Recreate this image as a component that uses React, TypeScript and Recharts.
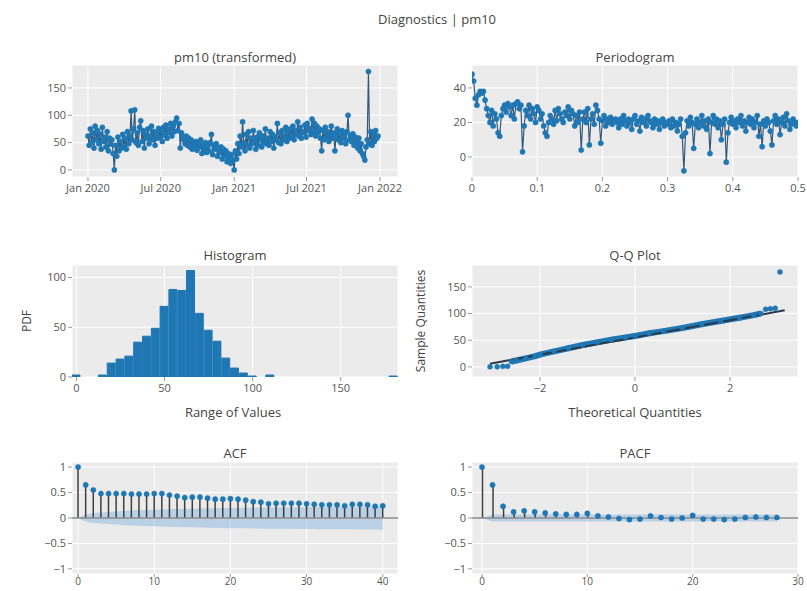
import React from "react";
import {
  ComposedChart,
  Line,
  Bar,
  Area,
  XAxis,
  YAxis,
  CartesianGrid,
  ReferenceLine,
} from "recharts";

const BLUE = "#1f77b4";
const STEM = "#3f3f3f";
const SERIES_LINE = "#35597a";
const BG = "#ebebeb";
const TEXT = "#444";
const TICK = "#555";
const FONT = '"Open Sans", "DejaVu Sans", sans-serif';

// pm10 readings, one every 3 days from 2020-01-01
const PM10_START = Date.UTC(2020, 0, 1);
const PM10_STEP_DAYS = 3;
const pm10Values = [
  62, 45, 75, 50, 68, 40, 80, 55, 72, 48,
  65, 38, 78, 52, 60, 42, 70, 35, 58, 47,
  55, 30, 0, 45, 25, 60, 35, 52, 40, 65,
  42, 58, 38, 70, 48, 62, 108, 55, 75, 110,
  50, 68, 45, 78, 90, 52, 72, 40, 65, 58,
  75, 48, 62, 80, 55, 70, 45, 68, 58, 76,
  60, 72, 52, 78, 64, 82, 58, 75, 68, 85,
  62, 80, 70, 88, 95, 72, 85, 40, 68, 60,
  55, 48, 62, 45, 58, 42, 55, 38, 50, 44,
  52, 36, 48, 42, 55, 30, 46, 38, 50, 32,
  44, 35, 50, 65, 28, 45, 38, 48, 25, 40,
  32, 42, 20, 38, 25, 35, 15, 30, 22, 12,
  28, 18, 0, 35, 20, 48, 30, 62, 42, 88,
  50, 35, 65, 45, 70, 40, 58, 48, 72, 52,
  38, 60, 45, 68, 55, 42, 62, 50, 75, 48,
  58, 45, 70, 52, 65, 40, 60, 55, 85, 50,
  68, 48, 72, 55, 62, 78, 52, 70, 58, 75,
  60, 80, 55, 72, 65, 88, 62, 78, 58, 70,
  68, 82, 60, 85, 72, 76, 65, 93, 70, 85,
  62, 80, 68, 75, 58, 35, 72, 55, 78, 60,
  70, 52, 65, 80, 58, 68, 35, 62, 75, 55,
  68, 50, 72, 58, 64, 48, 70, 100, 55, 62,
  52, 66, 45, 60, 50, 40, 58, 35, 48, 30,
  25, 18, 42, 55, 180, 48, 70, 45, 65, 52, 72, 58, 62,
];
const pm10Ticks = [
  Date.UTC(2020, 0, 1),
  Date.UTC(2020, 6, 1),
  Date.UTC(2021, 0, 1),
  Date.UTC(2021, 6, 1),
  Date.UTC(2022, 0, 1),
];
const pm10TickLabels = ["Jan 2020", "Jul 2020", "Jan 2021", "Jul 2021", "Jan 2022"];

// periodogram (dB), frequency step 0.0025 from 0 to 0.5
const FREQ_STEP = 0.0025;
const periodogramValues = [
  48, 44, 34, 30, 36, 38, 37, 38, 33, 28, 24, 20, 27, 18, 25, 22, 14, 12, 24, 28,
  30, 26, 31, 29, 24, 30, 22, 31, 32, 28, 30, 3, 18, 27, 24, 30, 22, 28, 25, 20,
  29, 27, 22, 25, 18, 14, 12, 20, 24, 22, 19, 27, 21, 28, 25, 22, 20, 26, 24, 29,
  22, 27, 25, 18, 24, 20, 26, 4, 22, 26, 20, 28, 7, 22, 25, 19, 30, 27, 22, 8,
  21, 24, 18, 22, 20, 23, 19, 21, 22, 20, 17, 22, 19, 24, 21, 18, 22, 20, 16, 22,
  24, 19, 21, 15, 23, 20, 22, 18, 24, 21, 20, 17, 22, 19, 21, 16, 20, 22, 18, 20,
  19, 21, 17, 22, 18, 20, 15, 19, 22, 12, -8, 14, 21, 18, 23, 20, 5, 19, 22, 17,
  20, 24, 18, 21, 16, 22, 2, 20, 24, 19, 22, 17, 21, 10, 19, 22, -3, 14, 20, 23,
  19, 21, 17, 22, 20, 24, 18, 21, 15, 20, 23, 19, 22, 17, 20, 24, 12, 19, 6, 21,
  18, 22, 20, 15, 7, 21, 24, 19, 22, 13, 20, 23, 18, 25, 21, 16, 19, 22, 20, 18,
  20,
];

// histogram, 5-wide bins
const BIN_WIDTH = 5;
const binCenters = [0, 15, 20, 25, 30, 35, 40, 45, 50, 55, 60, 65, 70, 75, 80, 85, 90, 95, 100, 110, 180];
const binCounts = [2, 2, 14, 18, 21, 35, 41, 49, 71, 88, 87, 107, 64, 47, 36, 19, 9, 4, 1, 2, 1];

// Q-Q plot
const qqBodyX = [-2.6, -2.5, -2.3, -2.1, -2.0, -1.7, -1.4, -1.1, -0.8, -0.5, -0.2, 0, 0.3, 0.6, 1.0, 1.4, 1.8, 2.2, 2.5, 2.65];
const qqBodyY = [10, 12, 16, 20, 23, 29, 35, 41, 46, 51, 55, 58, 63, 67, 73, 80, 86, 92, 97, 100];
const qqTailX = [-3.05, -2.9, -2.78, -2.68, 2.75, 2.85, 2.95, 3.05];
const qqTailY = [0, 0, 1, 1, 108, 109, 110, 178];
const qqLineX = [-3.05, 3.15];
const qqLineY = [6, 106];

// ACF / PACF
const acfValues = [
  1, 0.65, 0.55, 0.48, 0.48, 0.48, 0.48, 0.47, 0.47, 0.47, 0.48,
  0.48, 0.45, 0.43, 0.4, 0.41, 0.41, 0.39, 0.37, 0.37, 0.38,
  0.37, 0.35, 0.32, 0.31, 0.28, 0.29, 0.29, 0.29, 0.29, 0.28,
  0.27, 0.26, 0.26, 0.26, 0.24, 0.27, 0.27, 0.26, 0.23, 0.24,
];
const acfBand = [
  0, 0.07, 0.1, 0.11, 0.12, 0.13, 0.14, 0.145, 0.15, 0.155, 0.16,
  0.165, 0.17, 0.175, 0.18, 0.18, 0.185, 0.19, 0.19, 0.195, 0.2,
  0.2, 0.2, 0.205, 0.205, 0.21, 0.21, 0.21, 0.21, 0.215, 0.215,
  0.215, 0.22, 0.22, 0.22, 0.22, 0.22, 0.225, 0.225, 0.225, 0.23,
];
const pacfValues = [
  1, 0.65, 0.23, 0.12, 0.14, 0.12, 0.1, 0.08, 0.07, 0.07, 0.09,
  0.04, 0.02, -0.01, -0.03, -0.02, 0.04, 0.01, -0.02, 0, 0.05,
  -0.02, -0.02, -0.03, -0.02, 0.01, 0.02, 0.01, 0.01,
];
const pacfBand = [
  0, 0.07, 0.07, 0.07, 0.07, 0.07, 0.07, 0.07, 0.07, 0.07, 0.07,
  0.07, 0.07, 0.07, 0.07, 0.07, 0.07, 0.07, 0.07, 0.07, 0.07,
  0.07, 0.07, 0.07, 0.07, 0.07, 0.07, 0.07, 0.07,
];

const pm10Data = pm10Values.map((y, i) => ({
  x: PM10_START + i * PM10_STEP_DAYS * 86400000,
  y,
}));
const periodogramData = periodogramValues.map((y, i) => ({ x: i * FREQ_STEP, y }));
const histData = binCenters.map((x, i) => ({ x, y: binCounts[i] }));
const qqBody = qqBodyX.map((x, i) => ({ x, y: qqBodyY[i] }));
const qqTail = qqTailX.map((x, i) => ({ x, y: qqTailY[i] }));
const qqLine = qqLineX.map((x, i) => ({ x, y: qqLineY[i] }));
const acfData = acfValues.map((v, i) => ({ x: i, v, band: [-acfBand[i], acfBand[i]] }));
const pacfData = pacfValues.map((v, i) => ({ x: i, v, band: [-pacfBand[i], pacfBand[i]] }));

// layout
type Box = { x0: number; y0: number; x1: number; y1: number };
const YW = 48;
const XH = 26;
const TOP = 4;
const RIGHT = 9;

const BOX_TS: Box = { x0: 72, y0: 65, x1: 398, y1: 177 };
const BOX_PER: Box = { x0: 472, y0: 65, x1: 798, y1: 177 };
const BOX_HIST: Box = { x0: 72, y0: 265, x1: 398, y1: 377 };
const BOX_QQ: Box = { x0: 472, y0: 265, x1: 798, y1: 377 };
const BOX_ACF: Box = { x0: 72, y0: 462, x1: 398, y1: 574 };
const BOX_PACF: Box = { x0: 472, y0: 462, x1: 798, y1: 574 };

const tickStyle = { fontSize: 11, fill: TICK, fontFamily: FONT };
const smallTickStyle = { fontSize: 10, fill: TICK, fontFamily: FONT };
const fmt = (v: number) => (v < 0 ? "\u2212" + Math.abs(v) : String(v));

function xAxis(
  domain: number[],
  ticks: number[],
  formatter: (v: number) => string = fmt,
  compact = false
) {
  return (
    <XAxis
      type="number"
      dataKey="x"
      domain={domain}
      ticks={ticks}
      interval={0}
      allowDataOverflow
      axisLine={false}
      tickLine={{ stroke: "#999" }}
      tickSize={compact ? 3 : 4}
      tickMargin={compact ? 1 : 3}
      height={XH}
      tick={compact ? smallTickStyle : tickStyle}
      tickFormatter={formatter}
    />
  );
}

function yAxis(domain: number[], ticks: number[]) {
  return (
    <YAxis
      type="number"
      domain={domain}
      ticks={ticks}
      interval={0}
      allowDataOverflow
      axisLine={false}
      tickLine={{ stroke: "#999" }}
      tickSize={4}
      tickMargin={2}
      width={YW}
      tick={tickStyle}
      tickFormatter={fmt}
    />
  );
}

function Panel({ box, data, children }: { box: Box; data?: any[]; children: React.ReactNode }) {
  const w = box.x1 - box.x0 + YW + RIGHT;
  const h = box.y1 - box.y0 + TOP + XH;
  return (
    <div style={{ position: "absolute", left: box.x0 - YW, top: box.y0 - TOP }}>
      <ComposedChart width={w} height={h} data={data} margin={{ top: TOP, right: RIGHT, left: 0, bottom: 0 }}>
        <CartesianGrid fill={BG} fillOpacity={1} stroke="#fff" strokeWidth={1} />
        {children}
      </ComposedChart>
    </div>
  );
}

function Label({ x, y, text, size = 13, rotate = false }: { x: number; y: number; text: string; size?: number; rotate?: boolean }) {
  return (
    <div
      style={{
        position: "absolute",
        left: x,
        top: y,
        transform: `translate(-50%, -50%)${rotate ? " rotate(-90deg)" : ""}`,
        fontFamily: FONT,
        fontSize: size,
        color: TEXT,
        whiteSpace: "nowrap",
      }}
    >
      {text}
    </div>
  );
}

const dot = (r: number) => ({ r, fill: BLUE, stroke: BLUE, strokeWidth: 0.5 });
const histBarSize = (BIN_WIDTH * (BOX_HIST.x1 - BOX_HIST.x0)) / 185;

export default function App() {
  return (
    <div
      style={{
        position: "absolute",
        left: 0,
        top: 0,
        width: 807,
        height: 591,
        background: "#fff",
        overflow: "hidden",
      }}
    >
      <Label x={437} y={19} text="Diagnostics | pm10" size={13} />

      {/* pm10 series */}
      <Label x={235} y={57} text="pm10 (transformed)" />
      <Panel box={BOX_TS} data={pm10Data}>
        {xAxis([Date.UTC(2019, 10, 22), Date.UTC(2022, 1, 15)], pm10Ticks, (v) => pm10TickLabels[pm10Ticks.indexOf(v)] ?? "")}
        {yAxis([-13, 192], [0, 50, 100, 150])}
        <Line dataKey="y" stroke={SERIES_LINE} strokeWidth={1.2} dot={dot(2.6)} activeDot={false} isAnimationActive={false} />
      </Panel>

      {/* periodogram */}
      <Label x={635} y={57} text="Periodogram" />
      <Panel box={BOX_PER} data={periodogramData}>
        {xAxis([0, 0.5], [0, 0.1, 0.2, 0.3, 0.4, 0.5])}
        {yAxis([-11.6, 53.3], [0, 20, 40])}
        <Line dataKey="y" stroke={SERIES_LINE} strokeWidth={1.2} dot={dot(2.6)} activeDot={false} isAnimationActive={false} />
      </Panel>

      {/* histogram */}
      <Label x={235} y={255} text="Histogram" />
      <Label x={233} y={412} text="Range of Values" />
      <Label x={26} y={321} text="PDF" size={12} rotate />
      <Panel box={BOX_HIST} data={histData}>
        {xAxis([-2.5, 182.5], [0, 50, 100, 150])}
        {yAxis([0, 112.6], [0, 50, 100])}
        <Bar dataKey="y" fill={BLUE} stroke={BLUE} strokeWidth={1} barSize={histBarSize} isAnimationActive={false} />
      </Panel>

      {/* Q-Q */}
      <Label x={635} y={255} text="Q-Q Plot" />
      <Label x={635} y={412} text="Theoretical Quantities" />
      <Label x={420} y={321} text="Sample Quantities" size={12} rotate />
      <Panel box={BOX_QQ}>
        {xAxis([-3.43, 3.43], [-2, 0, 2])}
        {yAxis([-19, 191], [0, 50, 100, 150])}
        <Line data={qqBody} dataKey="y" stroke={BLUE} strokeWidth={6} dot={dot(2.5)} activeDot={false} isAnimationActive={false} />
        <Line data={qqTail} dataKey="y" stroke="none" dot={dot(2.5)} activeDot={false} isAnimationActive={false} />
        <Line data={qqLine} dataKey="y" stroke="#2b3a48" strokeWidth={2} dot={false} activeDot={false} isAnimationActive={false} />
      </Panel>

      {/* ACF */}
      <Label x={235} y={453} text="ACF" />
      <Panel box={BOX_ACF} data={acfData}>
        {xAxis([-0.8, 42], [0, 10, 20, 30, 40], fmt, true)}
        {yAxis([-1.1, 1.1], [-1, -0.5, 0, 0.5, 1])}
        <Area dataKey="band" type="linear" fill="#6fa8dc" fillOpacity={0.4} stroke="none" isAnimationActive={false} />
        <ReferenceLine y={0} stroke="#888" strokeWidth={1.5} />
        <Bar dataKey="v" fill={STEM} barSize={1.5} isAnimationActive={false} />
        <Line dataKey="v" stroke="none" dot={dot(2.6)} activeDot={false} isAnimationActive={false} />
      </Panel>

      {/* PACF */}
      <Label x={635} y={453} text="PACF" />
      <Panel box={BOX_PACF} data={pacfData}>
        {xAxis([-0.95, 30], [0, 10, 20, 30], fmt, true)}
        {yAxis([-1.1, 1.1], [-1, -0.5, 0, 0.5, 1])}
        <Area dataKey="band" type="linear" fill="#6fa8dc" fillOpacity={0.4} stroke="none" isAnimationActive={false} />
        <ReferenceLine y={0} stroke="#888" strokeWidth={1.5} />
        <Bar dataKey="v" fill={STEM} barSize={1.5} isAnimationActive={false} />
        <Line dataKey="v" stroke="none" dot={dot(2.6)} activeDot={false} isAnimationActive={false} />
      </Panel>
    </div>
  );
}
